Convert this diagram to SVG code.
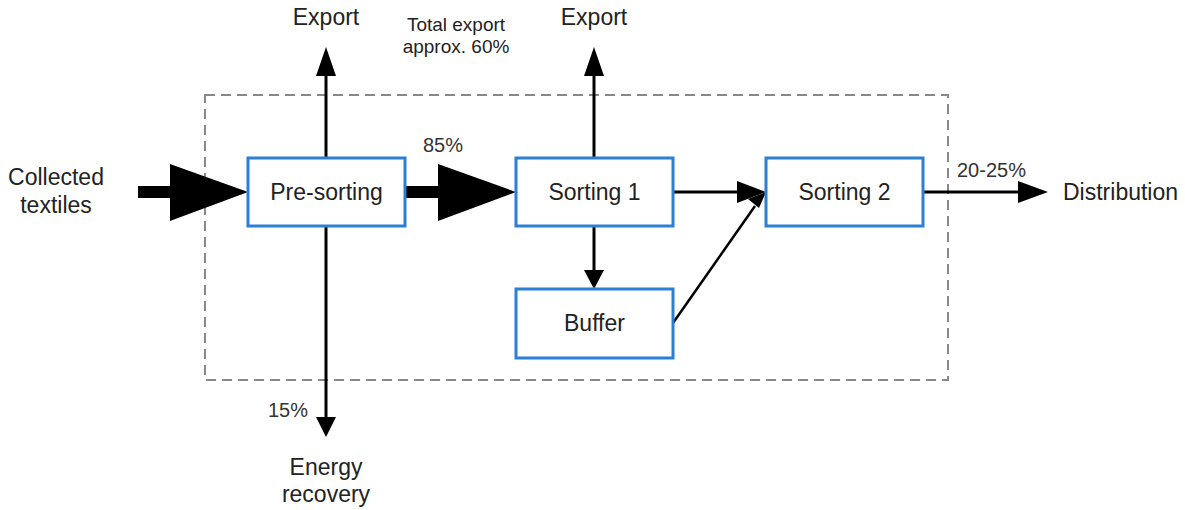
<svg xmlns="http://www.w3.org/2000/svg" width="1185" height="510" viewBox="0 0 1185 510">
  <defs>
    <style>
      .box { fill: #ffffff; stroke: #2b7fd4; stroke-width: 3; }
      .lbl { font-family: "Liberation Sans", Arial, sans-serif; font-size: 23px; fill: #222222; text-anchor: middle; }
      .small { font-family: "Liberation Sans", Arial, sans-serif; font-size: 19px; fill: #222222; text-anchor: middle; }
      .pct { font-family: "Liberation Sans", Arial, sans-serif; font-size: 20px; fill: #333333; }
      .line { stroke: #000000; stroke-width: 3; fill: none; }
      .thick { stroke: #000000; stroke-width: 12; fill: none; }
      .boundary { fill: none; stroke: #888888; stroke-width: 2; stroke-dasharray: 10 6; }
    </style>
  </defs>

  <rect width="1185" height="510" fill="#ffffff"/>

  <!-- system boundary -->
  <rect class="boundary" x="205" y="95" width="743" height="285"/>

  <g id="connectors">
    <!-- collected textiles into pre-sorting -->
    <line class="thick" x1="138" y1="192" x2="172" y2="192"/>
    <polygon points="170,164 248,192 170,221" fill="#000000"/>
    <!-- pre-sorting to sorting 1 (85%) -->
    <line class="thick" x1="405" y1="192" x2="440" y2="192"/>
    <polygon points="438,164 516,192 438,221" fill="#000000"/>
    <!-- export from pre-sorting -->
    <line class="line" x1="326" y1="158" x2="326" y2="75"/>
    <polygon points="316,76 326,47 336,76" fill="#000000"/>
    <!-- export from sorting 1 -->
    <line class="line" x1="594" y1="158" x2="594" y2="75"/>
    <polygon points="584,76 594,47 604,76" fill="#000000"/>
    <!-- energy recovery -->
    <line class="line" x1="326" y1="226" x2="326" y2="418"/>
    <polygon points="316,417 326,437 336,417" fill="#000000"/>
    <!-- sorting 1 to buffer -->
    <line class="line" x1="594" y1="226" x2="594" y2="271"/>
    <polygon points="584,270 594,289 604,270" fill="#000000"/>
    <!-- sorting 1 to sorting 2 -->
    <line class="line" x1="673" y1="192" x2="739" y2="192"/>
    <polygon points="737,181 766,192 737,203" fill="#000000"/>
    <!-- buffer to sorting 2 -->
    <line class="line" x1="673" y1="323" x2="755" y2="206" style="stroke-width:2.5"/>
    <polygon points="748,199 766,192 759,208" fill="#000000"/>
    <!-- sorting 2 to distribution -->
    <line class="line" x1="923" y1="192" x2="1020" y2="192"/>
    <polygon points="1018,181 1048,192 1018,203" fill="#000000"/>
  </g>

  <g id="presorting">
    <rect class="box" x="248" y="158" width="157" height="68"/>
    <text class="lbl" x="326.5" y="200">Pre-sorting</text>
  </g>
  <g id="sorting1">
    <rect class="box" x="516" y="158" width="157" height="68"/>
    <text class="lbl" x="594.5" y="200">Sorting 1</text>
  </g>
  <g id="sorting2">
    <rect class="box" x="766" y="158" width="157" height="68"/>
    <text class="lbl" x="844.5" y="200">Sorting 2</text>
  </g>
  <g id="buffer">
    <rect class="box" x="516" y="289" width="157" height="69"/>
    <text class="lbl" x="594.5" y="331">Buffer</text>
  </g>

  <g id="labels">
    <text class="lbl" x="56" y="185">Collected</text>
    <text class="lbl" x="56" y="213">textiles</text>
    <text class="lbl" x="326" y="25">Export</text>
    <text class="lbl" x="594" y="25">Export</text>
    <text class="small" x="456" y="31">Total export</text>
    <text class="small" x="456" y="53">approx. 60%</text>
    <text class="pct" x="423" y="152">85%</text>
    <text class="pct" x="268" y="417">15%</text>
    <text class="pct" x="957" y="177">20-25%</text>
    <text class="lbl" x="1063" y="200" style="text-anchor:start">Distribution</text>
    <text class="lbl" x="326" y="475">Energy</text>
    <text class="lbl" x="326" y="502">recovery</text>
  </g>
</svg>
